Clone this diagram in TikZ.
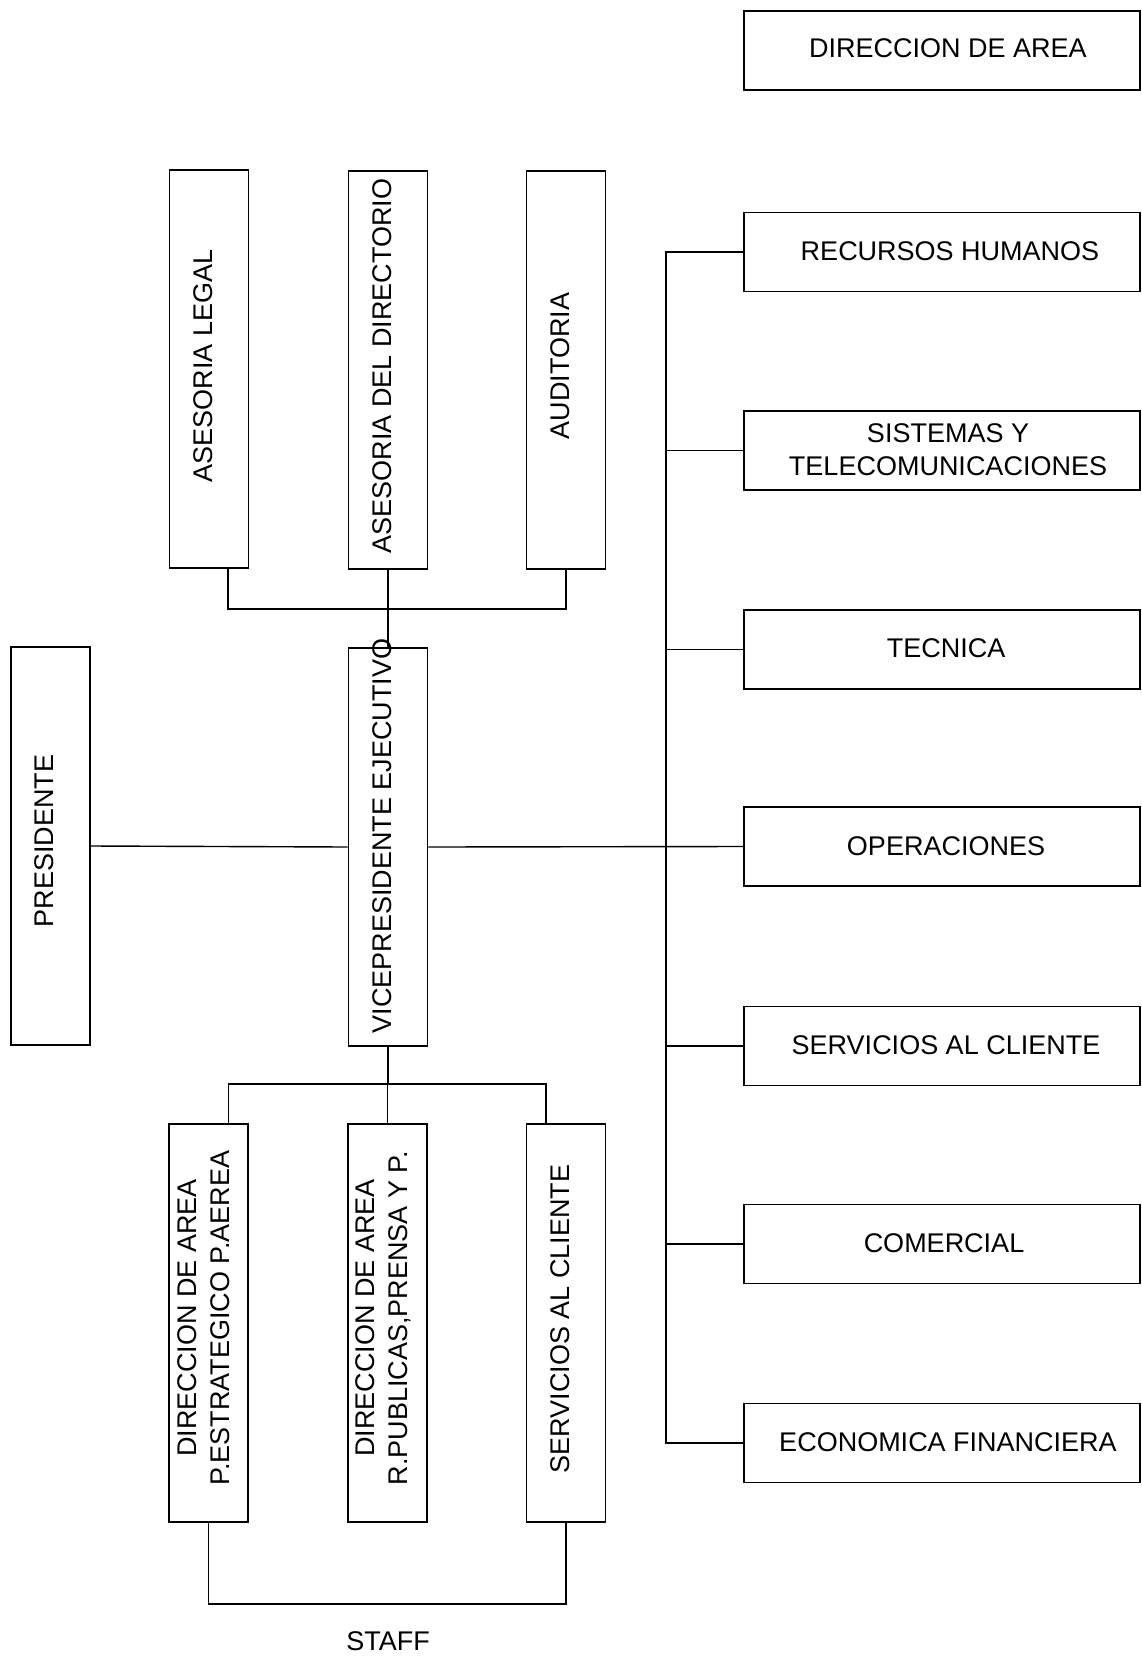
\documentclass[tikz,border=0pt]{standalone}
\usepackage{fontspec}
\setmainfont{Liberation Sans}
\usetikzlibrary{calc}
\begin{document}
\begin{tikzpicture}[x=1pt,y=-1pt,
  hbox/.style={draw,line width=1.6pt,inner sep=0pt,minimum width=396pt,minimum height=79pt},
  vbox/.style={draw,line width=1.6pt,inner sep=0pt,minimum width=79pt,minimum height=398pt},
  txt/.style={inner sep=0pt,align=center,font=\fontsize{27}{33}\selectfont},
  vtxt/.style={txt,rotate=90},
  conn/.style={line width=1.4pt}]
\useasboundingbox[fill=white] (0,0) rectangle (1141,1656);
% top staff boxes
\node[vbox] (legal) at (209,369) {};
\node[vbox] (dir) at (388,370) {};
\node[vbox] (aud) at (566,370) {};
\node[vtxt] (legal-t) at (203.5,366) {ASESORIA LEGAL};
\node[vtxt] (dir-t) at (382.5,366) {ASESORIA DEL DIRECTORIO};
\node[vtxt] (aud-t) at (560,366) {AUDITORIA};
% president and vice
\node[vbox] (pres) at (50.5,846) {};
\node[vbox] (vice) at (388,847) {};
\node[vtxt] (pres-t) at (44.5,841) {PRESIDENTE};
\node[vtxt] (vice-t) at (382.5,836) {VICEPRESIDENTE EJECUTIVO};
% bottom staff boxes
\node[vbox] (b1) at (208.5,1323) {};
\node[vbox] (b2) at (387.5,1323) {};
\node[vbox] (b3) at (566,1323) {};
\node[vtxt] (b1-t) at (204,1318) {DIRECCION DE AREA\\P.ESTRATEGICO P.AEREA};
\node[vtxt] (b2-t) at (383,1318) {DIRECCION DE AREA\\R.PUBLICAS,PRENSA Y P.};
\node[vtxt] (b3-t) at (560.5,1319) {SERVICIOS AL CLIENTE};
\node[txt] (staff) at (388,1641) {STAFF};
% right column
\node[hbox] (da) at (942,50.5) {};
\node[hbox] (rh) at (942,252) {};
\node[hbox] (sis) at (942,450.5) {};
\node[hbox] (tec) at (942,649.5) {};
\node[hbox] (oper) at (942,846.5) {};
\node[hbox] (ser) at (942,1046) {};
\node[hbox] (com) at (942,1244) {};
\node[hbox] (eco) at (942,1443) {};
\node[txt] (da-t) at (948,48) {DIRECCION DE AREA};
\node[txt] (rh-t) at (950,251) {RECURSOS HUMANOS};
\node[txt] (sis-t) at (948,450) {SISTEMAS Y\\TELECOMUNICACIONES};
\node[txt] (tec-t) at (946,648) {TECNICA};
\node[txt] (oper-t) at (946,846) {OPERACIONES};
\node[txt] (ser-t) at (946,1045) {SERVICIOS AL CLIENTE};
\node[txt] (com-t) at (944,1243) {COMERCIAL};
\node[txt] (eco-t) at (948,1442) {ECONOMICA FINANCIERA};
% connectors
\coordinate (topbar) at (0,609);
\coordinate (botbar) at (0,1084);
\coordinate (staffbar) at (0,1604);
\coordinate (bus) at (666,0);
\draw[conn] ([xshift=19pt]legal.south) |- (topbar -| aud.south) -- (aud.south);
\draw[conn] (dir.south) -- (vice.north);
\draw[conn] (pres.east) -- (vice.west);
\draw[conn] (vice.east) -- (oper.west);
\draw[conn] (rh.west) -- (rh.west -| bus) -- (eco.west -| bus) -- (eco.west);
\foreach \n in {sis,tec,ser,com} \draw[conn] (\n.west) -- (\n.west -| bus);
\draw[conn] (vice.south) -- (vice.south |- botbar);
\draw[conn] ([xshift=20pt]b1.north) |- ([xshift=-20pt]b3.north |- botbar) -- ([xshift=-20pt]b3.north);
\draw[conn] (b2.north) -- (b2.north |- botbar);
\draw[conn] (b1.south) |- (staffbar -| b3.south) -- (b3.south);
\end{tikzpicture}
\end{document}
